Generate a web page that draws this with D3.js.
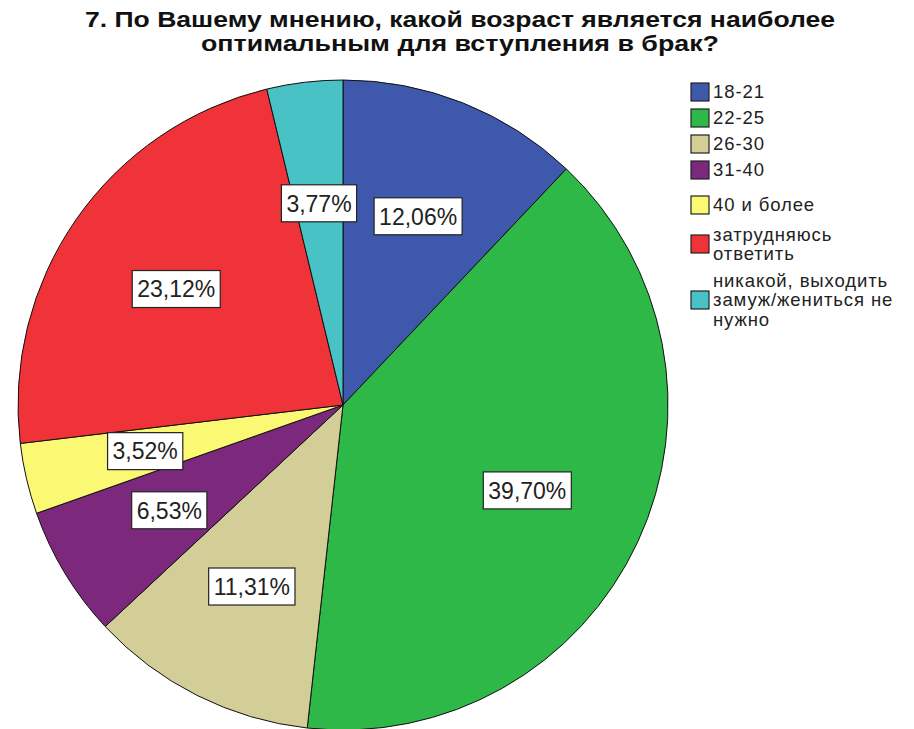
<!DOCTYPE html>
<html><head><meta charset="utf-8">
<script src="https://cdnjs.cloudflare.com/ajax/libs/d3/7.8.5/d3.min.js"></script>
<style>body{margin:0;background:#fff}svg{display:block}</style>
</head><body>
<script>
const categories = ["18-21","22-25","26-30","31-40","40 и более","затрудняюсь ответить","никакой, выходить замуж/жениться не нужно"];
const legendLines = [["18-21"],["22-25"],["26-30"],["31-40"],["40 и более"],["затрудняюсь","ответить"],["никакой, выходить","замуж/жениться не","нужно"]];
const values = [12.06, 39.70, 11.31, 6.53, 3.52, 23.12, 3.77];
const labels = ["12,06%","39,70%","11,31%","6,53%","3,52%","23,12%","3,77%"];
const colors = ["#3E58AC","#2EB848","#D3CE97","#7C287D","#FBF873","#EF3338","#48C2C5"];
const titleLines = ["7. По Вашему мнению, какой возраст является наиболее","оптимальным для вступления в брак?"];

const W=914,H=729;
const svg=d3.select("body").append("svg").attr("width",W).attr("height",H);
const cx=343, cy=405, R=325;

const pie=d3.pie().sort(null).value(d=>d)(values);
const arc=d3.arc().innerRadius(0).outerRadius(R);
const g=svg.append("g").attr("transform",`translate(${cx},${cy})`);
g.selectAll("path.slice").data(pie).join("path").attr("class","slice")
 .attr("d",arc).attr("fill",(d,i)=>colors[i]).attr("stroke","#111").attr("stroke-width",1);

const labelArc=d3.arc().innerRadius(R*0.625).outerRadius(R*0.625);
const lg=g.selectAll("g.lab").data(pie).join("g").attr("class","lab")
 .attr("transform",d=>`translate(${labelArc.centroid(d)})`);
lg.each(function(d,i){
  const s=d3.select(this);
  const r=s.append("rect");
  const t=s.append("text").attr("text-anchor","middle").attr("dy","0.36em")
    .attr("font-family","Liberation Sans, Arial, sans-serif").attr("font-size",23)
    .attr("fill","#222").text(labels[i]);
  const bb=t.node().getBBox();
  r.attr("x",-bb.width/2-5).attr("y",-18.5).attr("width",bb.width+10).attr("height",37)
   .attr("fill","#fff").attr("stroke","#222").attr("stroke-width",1.2);
});

const titleW=[750,518];
const tg=svg.append("g");
tg.selectAll("text").data(titleLines).join("text")
 .attr("x",460).attr("y",(d,i)=>27+i*23.5).attr("text-anchor","middle")
 .attr("font-family","Liberation Sans, Arial, sans-serif")
 .attr("font-weight","bold").attr("font-size",22.5).attr("fill","#111")
 .attr("textLength",(d,i)=>titleW[i]).attr("lengthAdjust","spacingAndGlyphs").text(d=>d);

const legY=[92,118,144,170,205,244,300];
const leg=svg.append("g");
categories.forEach((c,i)=>{
  const lines=legendLines[i];
  const y0=legY[i];
  leg.append("rect").attr("x",691).attr("y",y0-9).attr("width",18).attr("height",18)
   .attr("fill",colors[i]).attr("stroke","#222").attr("stroke-width",1.2);
  const n=lines.length;
  lines.forEach((l,j)=>{
    leg.append("text").attr("x",713).attr("y",y0+(j-(n-1)/2)*19.5).attr("dy","0.35em")
     .attr("font-family","Liberation Sans, Arial, sans-serif").attr("font-size",18.5)
     .attr("letter-spacing",0.9)
     .attr("fill","#222").text(l);
  });
});
</script>
</body></html>
